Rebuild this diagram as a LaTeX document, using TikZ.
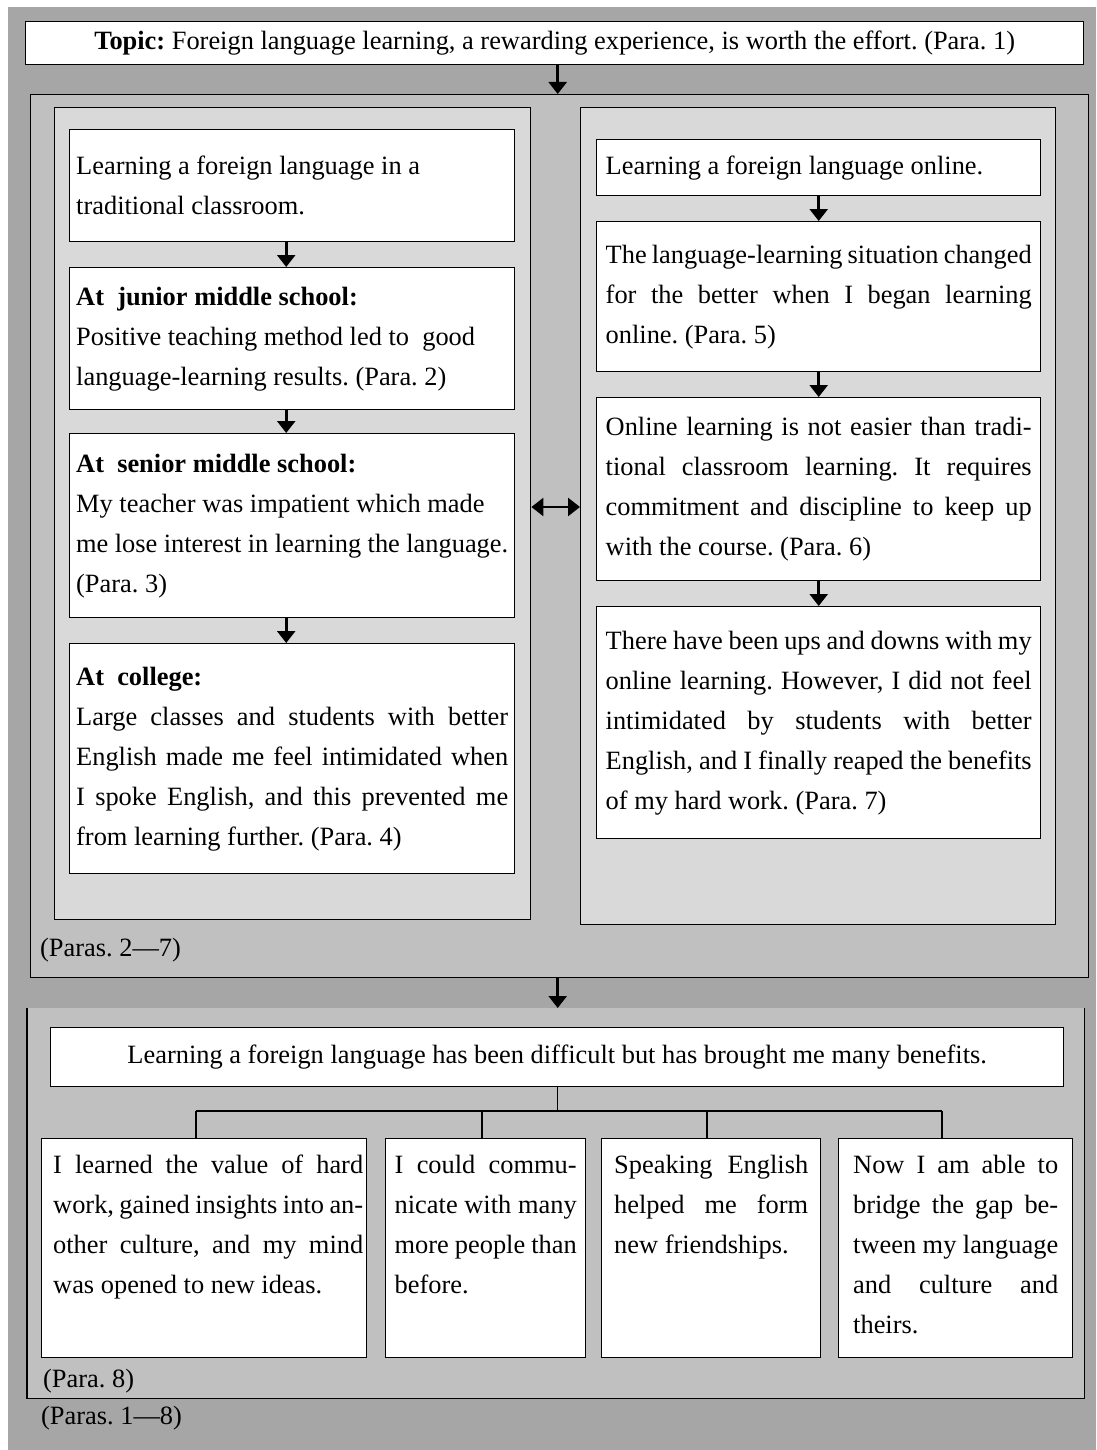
\documentclass[tikz,border=0pt]{standalone}
\usepackage{fontspec}
\setmainfont{Liberation Serif}
\usetikzlibrary{arrows.meta}
\definecolor{gOuter}{HTML}{A6A6A6}
\definecolor{gMid}{HTML}{C0C0C0}
\definecolor{gPanel}{HTML}{D9D9D9}
\AtBeginDocument{\tolerance=10000 \hyphenpenalty=10000 \exhyphenpenalty=10000 \frenchspacing}
\newcommand{\bodyfont}{\fontsize{26.4}{40}\selectfont\frenchspacing}
\tikzset{
  every node/.style={font=\bodyfont, inner sep=0pt},
  frame/.style={draw=black, line width=1.4pt, anchor=north west},
  wbox/.style={frame, fill=white},
  midbox/.style={frame, fill=gMid},
  panelbox/.style={frame, fill=gPanel},
  arr/.style={line width=2.6pt, -{Triangle[width=18pt,length=12pt]}},
  darr/.style={line width=2.6pt, {Triangle[width=18pt,length=12pt]}-{Triangle[width=18pt,length=12pt]}},
  tree/.style={line width=1.2pt},
  lab/.style={anchor=base west}
}
\begin{document}
\begin{tikzpicture}[x=1pt,y=-1pt]
\useasboundingbox (0,0) rectangle (1096,1450);
\fill[gOuter] (8,7) rectangle (1096,1450);

% topic
\node[wbox, minimum width=1058pt, minimum height=43pt] (topic) at (25,21)
  {\textbf{Topic:} Foreign language learning, a rewarding experience, is worth the effort. (Para. 1)};

% middle section
\node[midbox, minimum width=1058pt, minimum height=883pt] (mid) at (30,94) {};
\node[panelbox, minimum width=476pt, minimum height=812pt] (lp) at (54,107) {};
\node[panelbox, minimum width=475pt, minimum height=817pt] (rp) at (580,107) {};

\node[wbox, minimum width=445pt, minimum height=112pt] (L1) at (69,129)
  {\parbox{432pt}{Learning a foreign language in a\\traditional classroom.}};
\node[wbox, minimum width=445pt, minimum height=142pt] (L2) at (69,267)
  {\parbox{432pt}{\textbf{At~ junior middle school:}\\Positive teaching method led to~ good\\language-learning results. (Para. 2)}};
\node[wbox, minimum width=445pt, minimum height=184pt] (L3) at (69,433)
  {\parbox{432pt}{\textbf{At~ senior middle school:}\\My teacher was impatient which made\\me lose interest in learning the language.\\(Para. 3)}};
\node[wbox, minimum width=445pt, minimum height=230pt] (L4) at (69,643)
  {\parbox{432pt}{\textbf{At~ college:}\\Large classes and students with better\linebreak English made me feel intimidated when\linebreak I spoke English, and this prevented me\linebreak from learning further. (Para. 4)}};

\node[wbox, minimum width=444pt, minimum height=56pt] (R1) at (596,139)
  {\parbox{426pt}{Learning a foreign language online.}};
\node[wbox, minimum width=444pt, minimum height=150pt] (R2) at (596,221)
  {\parbox{426pt}{The language-learning situation changed\linebreak for the better when I began learning\linebreak online. (Para. 5)}};
\node[wbox, minimum width=444pt, minimum height=183pt] (R3) at (596,397)
  {\parbox{426pt}{Online learning is not easier than tradi-\linebreak tional classroom learning. It requires\linebreak commitment and discipline to keep up\linebreak with the course. (Para. 6)}};
\node[wbox, minimum width=444pt, minimum height=232pt] (R4) at (596,606)
  {\parbox{426pt}{There have been ups and downs with my\linebreak online learning. However, I did not feel\linebreak intimidated by students with better\linebreak English, and I finally reaped the benefits\linebreak of my hard work. (Para. 7)}};

\node[lab] (lab27) at (40,956) {(Paras. 2—7)};

% bottom section
\node[anchor=north west, fill=gMid, minimum width=1057pt, minimum height=390pt] (bp) at (27,1008) {};
\draw[line width=1.4pt] (bp.north west) -- (bp.south west) -- (bp.south east) -- (bp.north east);

\node[wbox, minimum width=1013pt, minimum height=59pt] (sum) at (50,1027)
  {Learning a foreign language has been difficult but has brought me many benefits.};

\node[wbox, minimum width=325pt, minimum height=219pt] (A) at (41,1138)
  {\hspace*{8pt}\parbox[c][219pt][t]{310pt}{\rule{0pt}{35pt}I learned the value of hard\linebreak work, gained insights into an-\linebreak other culture, and my mind\linebreak was opened to new ideas.}};
\node[wbox, minimum width=200pt, minimum height=219pt] (B) at (385,1138)
  {\parbox[c][219pt][t]{182pt}{\rule{0pt}{35pt}I could commu-\linebreak nicate with many\linebreak more people than\linebreak before.}};
\node[wbox, minimum width=219pt, minimum height=219pt] (C) at (601,1138)
  {\parbox[c][219pt][t]{194pt}{\rule{0pt}{35pt}Speaking English\linebreak helped me form\linebreak new friendships.}};
\node[wbox, minimum width=234pt, minimum height=219pt] (D) at (838,1138)
  {\parbox[c][219pt][t]{205pt}{\rule{0pt}{35pt}Now I am able to\linebreak bridge the gap be-\linebreak tween my language\linebreak and culture and\linebreak theirs.}};

\node[lab] (lab8) at (43,1387) {(Para. 8)};
\node[lab] (lab18) at (41,1424) {(Paras. 1—8)};

% connectors
\draw[arr] ([xshift=3pt]topic.south) -- ([xshift=3pt]topic.south |- mid.north);
\draw[arr] ([xshift=-6pt]L1.south) -- ([xshift=-6pt]L2.north);
\draw[arr] ([xshift=-6pt]L2.south) -- ([xshift=-6pt]L3.north);
\draw[arr] ([xshift=-6pt]L3.south) -- ([xshift=-6pt]L4.north);
\draw[arr] (R1.south) -- (R2.north);
\draw[arr] (R2.south) -- (R3.north);
\draw[arr] (R3.south) -- (R4.north);
\draw[darr] (lp.east |- 0,507) -- (rp.west |- 0,507);
\draw[arr] ([xshift=-2pt]mid.south) -- ([xshift=-2pt]mid.south |- bp.north);

\coordinate (jA) at (196,1111);
\coordinate (jB) at (482,1111);
\coordinate (jC) at (707,1111);
\coordinate (jD) at (942,1111);
\draw[tree] (sum.south) -- (sum.south |- jA);
\draw[tree] (jA) -- (jD);
\draw[tree] (jA) -- (jA |- A.north);
\draw[tree] (jB) -- (jB |- B.north);
\draw[tree] (jC) -- (jC |- C.north);
\draw[tree] (jD) -- (jD |- D.north);
\end{tikzpicture}
\end{document}
